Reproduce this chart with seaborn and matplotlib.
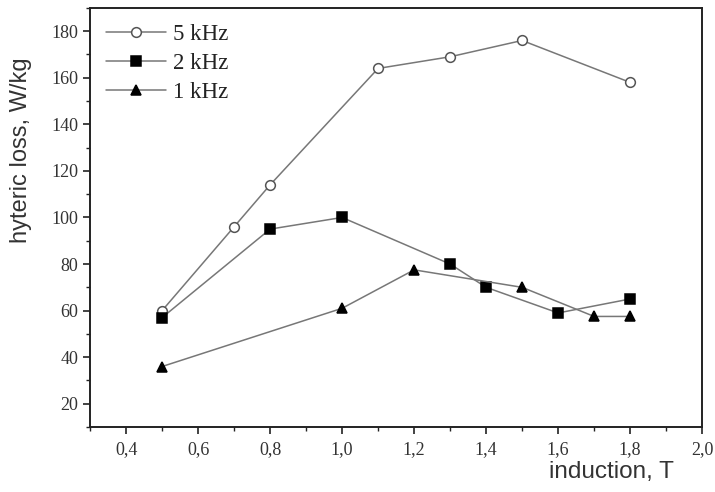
import pandas as pd
import matplotlib
matplotlib.use("Agg")
import matplotlib.pyplot as plt
import seaborn as sns
from matplotlib.ticker import MultipleLocator, FuncFormatter

# data
x_5k = [0.5, 0.7, 0.8, 1.1, 1.3, 1.5, 1.8]
y_5k = [60, 96, 114, 164, 169, 176, 158]
x_2k = [0.5, 0.8, 1.0, 1.3, 1.4, 1.6, 1.8]
y_2k = [57, 95, 100, 80, 70, 59, 65]
x_1k = [0.5, 1.0, 1.2, 1.5, 1.7, 1.8]
y_1k = [36, 61, 77.5, 70, 57.5, 57.5]
x_ticks = [0.4, 0.6, 0.8, 1.0, 1.2, 1.4, 1.6, 1.8, 2.0]
y_ticks = [20, 40, 60, 80, 100, 120, 140, 160, 180]

sns.set_style("ticks")

fig = plt.figure(figsize=(7.15, 4.92), dpi=100)
ax = fig.add_axes([0.126, 0.132, 0.856, 0.852])

line_col = "#777777"
series = [
    ("5 kHz", x_5k, y_5k, "o", "white", "#555555"),
    ("2 kHz", x_2k, y_2k, "s", "black", "black"),
    ("1 kHz", x_1k, y_1k, "^", "black", "black"),
]
for name, xs, ys, mk, fc, ec in series:
    df = pd.DataFrame({"x": xs, "y": ys})
    sns.lineplot(data=df, x="x", y="y", ax=ax, color=line_col, lw=1.1,
                 marker=mk, markersize=7, markerfacecolor=fc,
                 markeredgecolor=ec, markeredgewidth=1.1, label=name,
                 sort=False)

ax.set_xlim(0.3, 2.0)
ax.set_ylim(10, 190)
ax.set_xticks(x_ticks)
ax.set_yticks(y_ticks)
ax.xaxis.set_minor_locator(MultipleLocator(0.1))
ax.yaxis.set_minor_locator(MultipleLocator(10))
ax.xaxis.set_major_formatter(FuncFormatter(lambda v, p: f"{v:.1f}".replace(".", ",")))

for lab in ax.get_xticklabels() + ax.get_yticklabels():
    lab.set_fontfamily("Liberation Serif")
    lab.set_fontsize(13)
    lab.set_color("#333333")

ax.tick_params(which="major", direction="out", length=5, width=1.2, colors="#222222", labelcolor="#333333")
ax.tick_params(which="minor", direction="out", length=3, width=1.0, colors="#222222")
ax.tick_params(axis="x", pad=5)
for sp in ax.spines.values():
    sp.set_linewidth(1.4)
    sp.set_color("#222222")

ax.set_xlabel("")
ax.set_ylabel("")
fig.text(0.855, 0.04, "induction, T", ha="center", va="center",
         family="Liberation Sans", fontsize=17.5, color="#333333")
fig.text(0.03, 0.695, "hyteric loss, W/kg", ha="center", va="center",
         rotation=90, family="Liberation Sans", fontsize=17, color="#333333")

leg = ax.legend(loc="upper left", frameon=False, prop={"family": "Liberation Serif", "size": 16.5},
                handlelength=2.6, borderaxespad=0.5, labelspacing=0.35, handletextpad=0.3,
                borderpad=0.2)
for t in leg.get_texts():
    t.set_color("#222222")

fig.savefig("out.png", dpi=100)
